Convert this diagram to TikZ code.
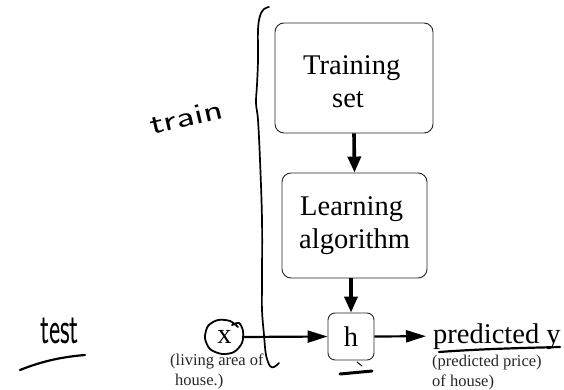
\documentclass[tikz,border=0pt]{standalone}
\usepackage{fontspec}
\setmainfont{Liberation Serif}
\usetikzlibrary{arrows.meta}
\begin{document}
\begin{tikzpicture}[x=1pt,y=-1pt,
  box/.style={draw=black!85, line width=0.9pt, rounded corners=9pt, inner sep=0pt},
  big/.style={font=\fontsize{28.5}{33}\selectfont, inner sep=0pt},
  small/.style={font=\fontsize{16.5}{20}\selectfont, inner sep=0pt, text=black!85},
  flow/.style={line width=3.6pt, -{Triangle[length=16pt,width=13pt]}},
  feed/.style={line width=2.2pt, -{Triangle[length=20pt,width=12pt]}},
  ink/.style={line width=1.8pt, line cap=round, line join=round},
  scrawl/.style={inner sep=0pt, transform shape},
]
\useasboundingbox (0,0) rectangle (564,390);

% training pipeline
\node[box, minimum width=158pt, minimum height=110pt] (trainbox) at (354,78) {};
\node[big, anchor=base west] (t1) at (303,75) {Training};
\node[big, anchor=base west] (t2) at (332,108) {set};

\node[box, minimum width=145pt, minimum height=105pt] (learnbox) at (354.5,225.5) {};
\node[big, anchor=base west] (l1) at (300,215) {Learning};
\node[big, anchor=base west] (l2) at (299,248) {algorithm};

\node[box, big, rounded corners=7pt, minimum width=46pt, minimum height=47pt] (hbox) at (351,336.5) {h};
\node[big, circle, minimum size=37pt] (xin) at (224.5,337) {x};
\node[big, anchor=base west, inner xsep=7pt] (pred) at (426,343) {predicted y};

\draw[flow] (trainbox.south) -- (learnbox.north);
\draw[flow] (learnbox.south -| hbox.north) -- (hbox.north);
\draw[feed] (xin.east) -- (hbox.west);
\draw[feed] (hbox.east) -- (pred.west);

% notes under input and output
\node[small, anchor=base west] (xnote1) at (170,365) {(living area of};
\node[small, anchor=base west] (xnote2) at (175,385) {house.)};
\node[small, anchor=base west] (ynote1) at (432,366) {(predicted price)};
\node[small, anchor=base west] (ynote2) at (432,386) {of house)};

% pen annotations
\node[scrawl, font=\sffamily\fontsize{29}{29}\selectfont, anchor=base west, rotate=13, xscale=1.4] (trainnote) at (152,135) {train};
\node[scrawl, font=\sffamily\fontsize{46}{46}\selectfont, anchor=base west, xscale=0.58] (testnote) at (40,343) {test};
\draw[ink, line width=2.2pt] (20,370) .. controls (40,362) and (60,357) .. (85,355);
\draw[ink, line width=2.2pt] (439,352) .. controls (480,349) and (520,348) .. (560,347);
\draw[ink, line width=3pt] (340,374) -- (372,371);
\draw[ink, line width=1pt] (357,362) -- (362,366);
\draw[ink] plot[smooth] coordinates {(232,325) (239,323) (243,331) (242,343) (234,352) (222,354) (210,349) (205,338) (208,326) (218,320) (230,321) (238,327)};
\draw[ink, line width=1.7pt] plot[smooth, tension=0.6] coordinates {(269,7) (264,9) (260,16) (258,30) (258,60) (257,85) (256,103) (258,120) (260,160) (262,220) (262,280) (262,310) (264,335) (266,355) (270,366) (274,367) (279,363)};
\end{tikzpicture}
\end{document}
